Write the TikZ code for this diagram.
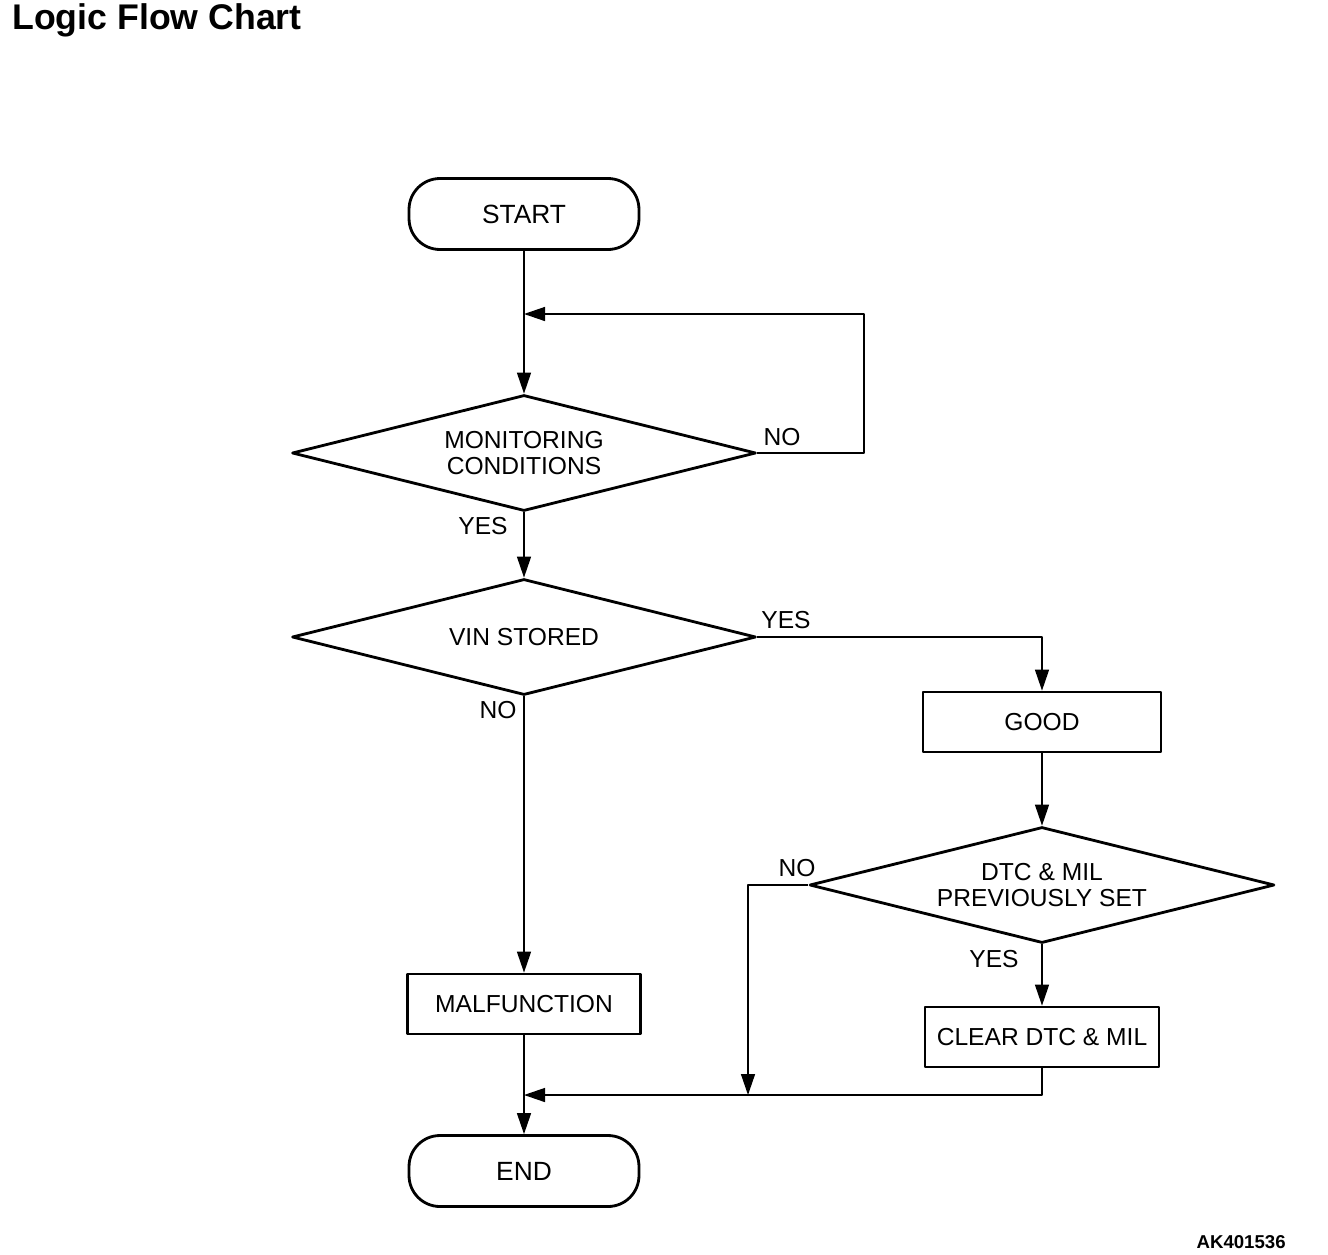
\documentclass[tikz,border=0pt]{standalone}
\usepackage{fontspec}
\setmainfont{Liberation Sans}
\usetikzlibrary{shapes.geometric,arrows.meta}
\begin{document}
\begin{tikzpicture}[x=0.02cm,y=-0.02cm,line join=round,
  font=\fontsize{14}{14.5}\selectfont,
  box/.style={draw,line width=1.6pt,minimum width=4.76cm,minimum height=1.2cm,inner sep=0pt},
  term/.style={box,rounded corners=0.62cm,minimum width=4.6cm,minimum height=1.42cm,font=\fontsize{15}{16}\selectfont},
  test/.style={draw,diamond,line width=1.6pt,aspect=4,inner sep=0pt,minimum width=9.28cm,minimum height=2.32cm,align=center},
  flow/.style={line width=0.8pt,-{Triangle[length=0.42cm,width=0.28cm]}}]
\useasboundingbox (0,0) rectangle (1328,1254);
% boxes
\node[anchor=west,inner sep=0pt,font=\fontsize{20.3}{24}\selectfont\bfseries] (title) at (12,20) {Logic Flow Chart};
\node[term] (start) at (524,214) {START};
\node[test] (mon) at (524,453) {MONITORING\\CONDITIONS};
\node[test] (vin) at (524,637) {VIN STORED};
\node[box] (good) at (1042,722) {GOOD};
\node[test,minimum width=9.3cm] (dtc) at (1042,885) {DTC \& MIL\\PREVIOUSLY SET};
\node[box,minimum width=4.68cm] (clear) at (1042,1037) {CLEAR DTC \& MIL};
\node[box,minimum width=4.66cm] (malf) at (524,1004) {MALFUNCTION};
\node[term] (end) at (524,1171) {END};
\node[anchor=east,inner sep=0pt,font=\fontsize{10.6}{13}\selectfont\bfseries] (code) at (1286,1242) {AK401536};
\path
(524,314) coordinate (top)
(864,314) coordinate (loop)
(524,1095) coordinate (bot)
(748,1095) coordinate (side)
;
% flow lines
\draw[flow] (start) -- (mon);
\draw[flow] (mon.east) -- (mon.east -| loop) -- (loop) -- (top);
\draw[flow] (mon) -- (vin);
\draw[flow] (vin.east) -| (good);
\draw[flow] (vin) -- (malf);
\draw[flow] (good) -- (dtc);
\draw[flow] (dtc) -- (clear);
\draw[flow] (dtc.west) -| (side);
\draw[flow] (clear) |- (bot);
\draw[flow] (malf) -- (end);
\foreach \n/\t/\x/\y in {a/NO/782/437,b/YES/483/526,c/YES/786/620,d/NO/498/710,e/NO/797/868,f/YES/994/959}
\node (l\n) at (\x,\y) {\t};
\end{tikzpicture}
\end{document}
